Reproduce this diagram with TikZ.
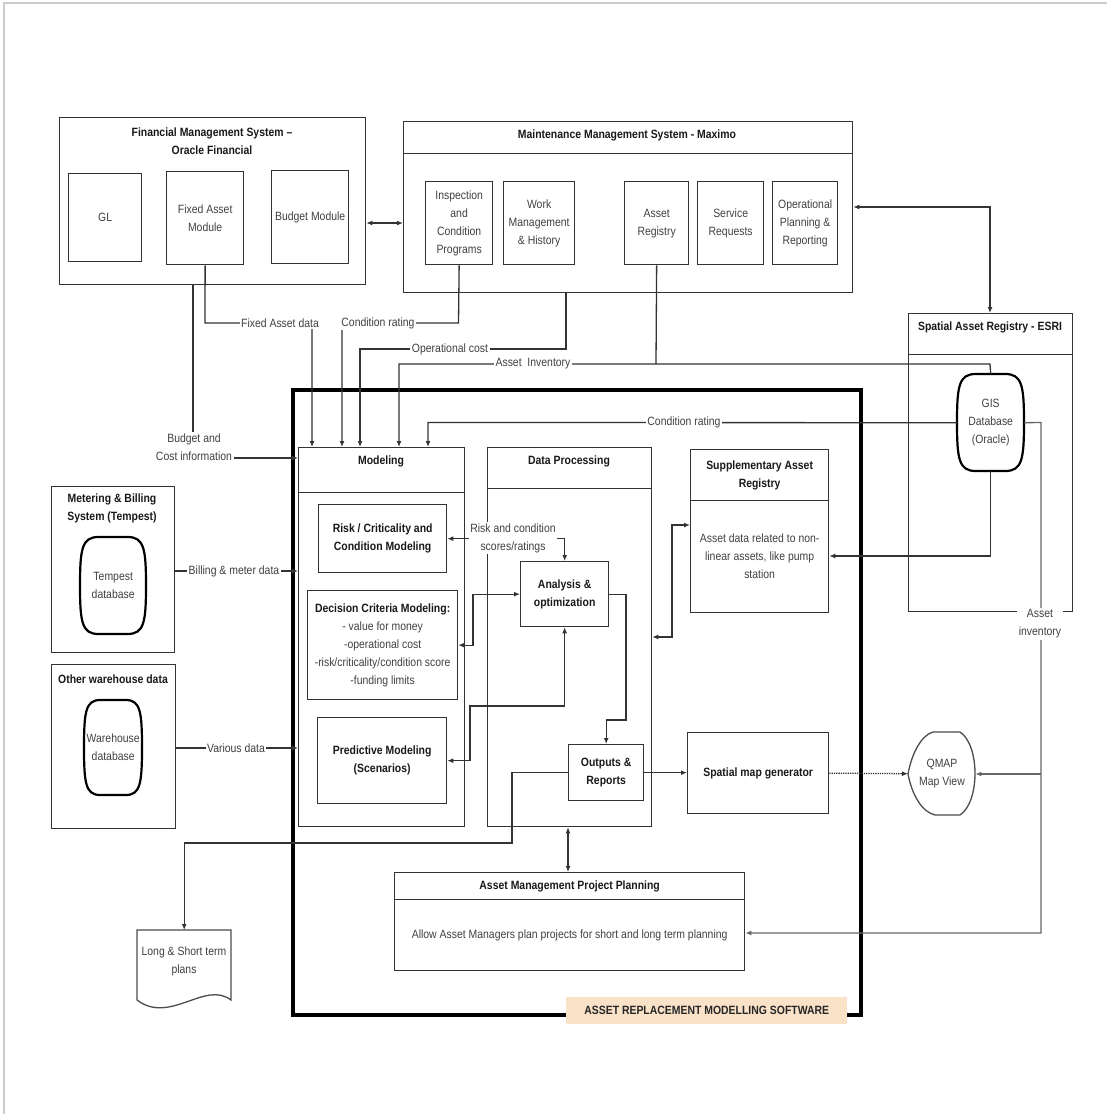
\documentclass[tikz,border=0pt]{standalone}
\usepackage{fontspec}
\setmainfont{Liberation Sans}[FakeStretch=0.87]
\usetikzlibrary{arrows.meta,calc}
\definecolor{peach}{RGB}{250,226,200}
\newcommand\bx[7][]{\node[box,#1,minimum width={(#5-#3)*1bp},minimum height={(#6-#4)*1bp}] (#2) at (#3,#4) {#7};}
\newcommand\dbpath[4]{\draw[dbline] ({#1+0.28*(#3-#1)},#2) -- ({#3-0.28*(#3-#1)},#2) .. controls ({#3-0.03*(#3-#1)},#2) and (#3,{#2+0.12*(#4-#2)}) .. (#3,{(#2+#4)/2}) .. controls (#3,{#4-0.12*(#4-#2)}) and ({#3-0.03*(#3-#1)},#4) .. ({#3-0.28*(#3-#1)},#4) -- ({#1+0.28*(#3-#1)},#4) .. controls ({#1+0.03*(#3-#1)},#4) and (#1,{#4-0.12*(#4-#2)}) .. (#1,{(#2+#4)/2}) .. controls (#1,{#2+0.12*(#4-#2)}) and ({#1+0.03*(#3-#1)},#2) .. cycle;}
\begin{document}
\begin{tikzpicture}[x=1bp,y=-1bp,
  font=\fontsize{12bp}{18bp}\selectfont,
  box/.style={draw=black!80, line width=1.3bp, inner sep=0pt, anchor=north west, align=center, text=black!75},
  tbox/.style={box, font=\fontsize{12bp}{18bp}\selectfont\bfseries, text=black!90},
  ttl/.style={font=\fontsize{12bp}{18bp}\selectfont\bfseries, text=black!90, align=center, inner sep=0pt},
  txt/.style={text=black!75, align=center, inner sep=0pt},
  conn/.style={draw=black!80, line width=1.3bp},
  tip/.tip={Latex[length=6bp,width=5bp]},
  arr/.style={conn, -tip},
  darr/.style={conn, tip-tip},
  garr/.style={arr, draw=black!60},
  lbl/.style={fill=white, inner sep=1.5bp, align=center, text=black!75},
  dbline/.style={draw=black, line width=2.2bp},
  shp/.style={draw=black!70, line width=1.3bp},
]
\useasboundingbox (0,0) rectangle (1107,1114);
\draw[black!20, line width=1.2bp] (4,1114) -- (4,3) -- (1107,3);

% ---------- Financial Management System ----------
\bx{fms}{59}{117}{365}{284}{}
\node[ttl] (fmst) at (212,141) {Financial Management System –\\Oracle Financial};
\bx{gl}{68}{173}{141}{261}{GL}
\bx{fam}{166}{171}{243}{264}{Fixed Asset\\Module}
\bx{bm}{271}{170}{348}{263}{Budget Module}

% ---------- Maintenance Management System ----------
\bx{mmst}{403}{121}{852}{153}{}
\node[ttl] (mmstt) at (627,135) {Maintenance Management System - Maximo};
\bx{mmsb}{403}{153}{852}{292}{}
\bx{icp}{425}{181}{492}{264}{Inspection\\and\\Condition\\Programs}
\bx{wmh}{503}{181}{574}{264}{Work\\Management\\\& History}
\bx{ar}{624}{181}{688}{264}{Asset\\Registry}
\bx{sr}{697}{181}{763}{264}{Service\\Requests}
\bx{opr}{772}{181}{837}{264}{Operational\\Planning \&\\Reporting}

% ---------- Spatial Asset Registry ----------
\bx{sart}{908}{313}{1072}{354}{}
\node[ttl] (sartt) at (990,327) {Spatial Asset Registry - ESRI};
\bx{sarb}{908}{354}{1072}{611}{}
\node[txt, minimum width=67bp, minimum height=97bp, anchor=north west] (gis) at (957,374) {GIS\\Database\\(Oracle)};
\dbpath{957}{374}{1024}{471}

% ---------- Big frame ----------
\node[draw=black, line width=3.8bp, inner sep=0pt, anchor=north west, minimum width=568bp, minimum height=625bp] (frame) at (291,388) {};

% ---------- Modeling ----------
\bx{modt}{298}{447}{464}{492}{}
\node[ttl] (modtt) at (381,461) {Modeling};
\bx{modb}{298}{492}{464}{826}{}
\bx[tbox]{risk}{318}{504}{446}{572}{Risk / Criticality and\\Condition Modeling}
\bx{dcm}{307}{590}{457}{699}{{\bfseries\color{black!90}Decision Criteria Modeling:}\\- value for money\\-operational cost\\-risk/criticality/condition score\\-funding limits}
\bx[tbox]{pm}{317}{717}{446}{803}{Predictive Modeling\\(Scenarios)}

% ---------- Data Processing ----------
\bx{dpt}{487}{447}{651}{488}{}
\node[ttl] (dptt) at (569,461) {Data Processing};
\bx{dpb}{487}{488}{651}{826}{}
\bx[tbox]{ana}{520}{561}{608}{626}{Analysis \&\\optimization}
\bx[tbox]{out}{568}{744}{643}{800}{Outputs \&\\Reports}

% ---------- Supplementary ----------
\bx[tbox]{supt}{690}{449}{828}{500}{Supplementary Asset\\Registry}
\bx{supb}{690}{500}{828}{612}{Asset data related to non-\\linear assets, like pump\\station}
\bx[tbox]{smg}{687}{732}{828}{813}{Spatial map generator}

% ---------- AMPP ----------
\bx[tbox]{ampt}{394}{872}{744}{899}{Asset Management Project Planning}
\bx{ampb}{394}{899}{744}{970}{Allow Asset Managers plan projects for short and long term planning}

% ---------- Left systems ----------
\bx{mbs}{51}{486}{174}{652}{}
\node[ttl] (mbst) at (112,508) {Metering \& Billing\\System (Tempest)};
\node[txt, minimum width=66bp, minimum height=97bp, anchor=north west] (tdb) at (80,537) {Tempest\\database};
\dbpath{80}{537}{146}{634}
\bx{owd}{51}{664}{175}{828}{}
\node[ttl] (owdt) at (113,679) {Other warehouse data};
\node[txt, minimum width=58bp, minimum height=95bp, anchor=north west] (wdb) at (84,700) {Warehouse\\database};
\dbpath{84}{700}{142}{795}

% ---------- Document ----------
\node[inner sep=0pt, minimum width=94bp, minimum height=70bp, anchor=north west] (ls) at (137,930) {};
\draw[shp] (137,930) -- (231,930) -- (231,1000) .. controls (205,980) and (170,1025) .. (137,1000) -- cycle;
\node[txt] (lst) at (184,961) {Long \& Short term\\plans};

% ---------- QMAP ----------
\node[inner sep=0pt, minimum width=67bp, minimum height=83bp, anchor=north west] (qmap) at (908,732) {};
\draw[shp] (933,732) -- (960,732) .. controls (980,745) and (980,802) .. (960,815) -- (935,815) .. controls (922,812) and (912,795) .. (908,774) .. controls (912,752) and (922,735) .. (933,732) -- cycle;
\node[txt] (qmapt) at (942,774) {QMAP\\Map View};

% ---------- Connectors ----------
\draw[darr] (fms.east |- 0,223) -- (mmsb.west |- 0,223);
\draw[darr] (mmsb.east |- 0,207) -| (sart.north -| 990,0);
\draw[arr] (fms.south -| 193,0) |- (modt.west |- 0,458);
\draw[arr] (fam.south) -- (205,323) -- (312,323) -- (modt.north -| 312,0);
\draw[arr] (icp.south) -- (458.5,323) -- (342,323) -- (modt.north -| 342,0);
\draw[arr] (mmsb.south -| 566,0) -- (566,349) -- (360,349) -- (modt.north -| 360,0);
\draw[arr] (gis.north) -- (990,364) -- (399,364) -- (modt.north -| 399,0);
\draw[conn] (ar.south) -- (656,364);
\draw[arr] (gis.west) -- (428,422.5) -- (modt.north -| 428,0);
\draw[arr] (gis.south) |- (supb.east |- 0,556);
\draw[garr] (gis.east) -- (1041,422.5) -- (1041,933) -- (ampb.east |- 0,933);
\draw[garr] (1041,774) -- (qmap.east |- 0,774);
\draw[arr] (mbs.east |- 0,571) -- (modb.west |- 0,571);
\draw[arr] (owd.east |- 0,748) -- (modb.west |- 0,748);
\draw[darr] (risk.east) -- (ana.north |- risk.east) -- (ana.north);
\draw[darr] (dcm.east) -- (dcm.east -| 473,0) |- (ana.west);
\draw[darr] (pm.east) -| (470,706) -| (ana.south);
\draw[arr] (ana.east) -| (626,720) -| (out.north);
\draw[arr] (out.east) -- (smg.west |- out.east);
\draw[arr] (out.west) -| (512,843) -| (ls.north);
\draw[darr] (dpb.south -| 568,0) -- (ampt.north -| 568,0);
\draw[darr] (dpb.east |- 0,637) -| (672,525) -- (supb.west |- 0,525);
\draw[arr, densely dotted] (smg.east) -- (qmap.west);

% ---------- Connector labels ----------
\node[lbl] (l1) at (194,447) {Budget and\\Cost information};
\node[lbl] (l2) at (280,323) {Fixed Asset data};
\node[lbl] (l3) at (378,323) {Condition rating};
\node[lbl] (l4) at (450,349) {Operational cost};
\node[lbl] (l5) at (533,364) {Asset~ Inventory};
\node[lbl] (l6) at (684,422) {Condition rating};
\node[lbl] (l7) at (234,571) {Billing \& meter data};
\node[lbl] (l8) at (236,748) {Various data};
\node[lbl] (l9) at (513,538) {Risk and condition\\scores/ratings};
\node[lbl] (l10) at (1040,624) {Asset\\inventory};

% ---------- Frame label ----------
\node[fill=peach, inner sep=0pt, anchor=north west, minimum width=281bp, minimum height=27bp, font=\fontsize{12bp}{18bp}\selectfont\bfseries, text=black!85] (frl) at (566,997) {ASSET REPLACEMENT MODELLING SOFTWARE};
\end{tikzpicture}
\end{document}
